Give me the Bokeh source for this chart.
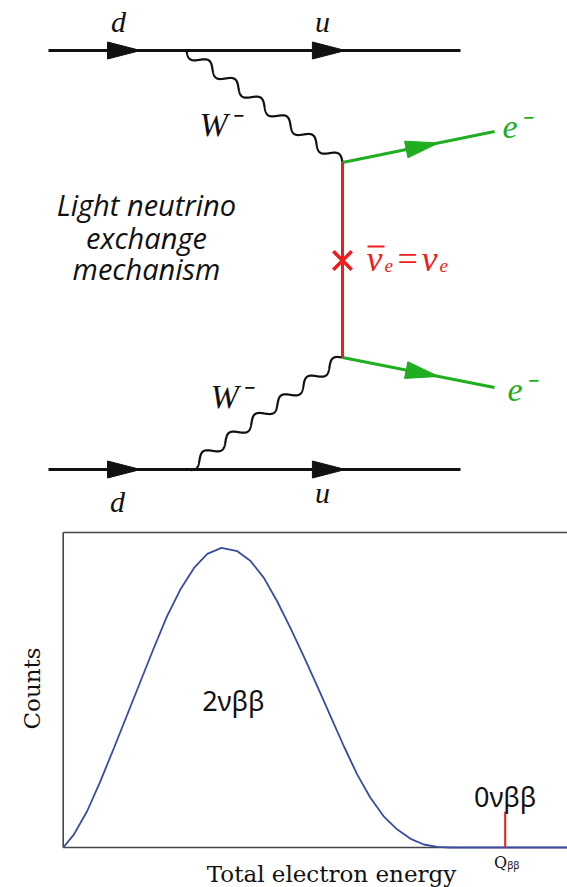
import numpy as np
from bokeh.plotting import figure
from bokeh.models import Range1d, Label
from bokeh.layouts import column
from bokeh.embed import file_html
from bokeh.resources import INLINE

# ---------------- spectrum data (energy in units of Q_bb, counts normalised) ----------------
energy = [0.0, 0.024, 0.054, 0.084, 0.115, 0.145, 0.175, 0.205, 0.235, 0.265, 0.296,
          0.326, 0.358, 0.394, 0.424, 0.454, 0.484, 0.514, 0.544, 0.575, 0.605,
          0.635, 0.665, 0.695, 0.725, 0.756, 0.786, 0.816, 0.846, 0.876, 1.0, 1.14]
counts = [0.0, 0.043, 0.121, 0.221, 0.333, 0.444, 0.555, 0.666, 0.772, 0.861, 0.933,
          0.980, 1.0, 0.989, 0.956, 0.900, 0.822, 0.733, 0.639, 0.538, 0.438,
          0.338, 0.244, 0.166, 0.104, 0.060, 0.029, 0.010, 0.002, 0.0, 0.0, 0.0]
q_energy = [1.0]          # Q_bb position
zero_nu_height = [0.12]   # height of the 0vbb line
count_axis_top = 1.0514   # top of the counts axis box
energy_axis_end = 1.141
label_2nu = (0.385, 0.49)
label_0nu = (1.0, 0.17)
x_title = "Total electron energy"
y_title = "Counts"

# ---------------- Feynman diagram geometry (drawing units) ----------------
quark_x = [48, 186, 460]      # left end, W vertex, right end
quark_y = [50, 469]           # upper and lower quark lines
lepton_x = 342                # lepton vertices x
lepton_y = [162, 357]         # upper and lower lepton vertex
electron_end_x = 494
electron_end_y = [131, 387]
cross_y = 260
arrow_frac_quark = [0.667, 0.58]
arrow_frac_electron = 0.632
w_periods = 6
w_amplitude = 5.0

BLACK = "#111111"
FRAME = "#444444"
GREEN = "#1fae1f"
RED = "#ee1c1c"
BLUE = "#3a4ba0"
DY = -11   # label baseline correction


def arrowhead(p0, p1, frac, length=33.0, half_w=8.5):
    p0 = np.array(p0, float)
    p1 = np.array(p1, float)
    d = p1 - p0
    u = d / np.hypot(*d)
    n = np.array([-u[1], u[0]])
    tip = p0 + frac * d
    base = tip - length * u
    pts = [tip, base + half_w * n, base - half_w * n]
    return [float(q[0]) for q in pts], [float(q[1]) for q in pts]


def wave(p0, p1, periods, amp):
    p0 = np.array(p0, float)
    p1 = np.array(p1, float)
    d = p1 - p0
    u = d / np.hypot(*d)
    n = np.array([-u[1], u[0]])
    s = np.linspace(0, 1, 600)
    off = amp * np.sin(2 * np.pi * periods * s)
    pts = p0[None, :] + s[:, None] * d[None, :] + off[:, None] * n[None, :]
    return list(pts[:, 0]), list(pts[:, 1])


top = figure(width=567, height=520, x_range=Range1d(0, 567), y_range=Range1d(520, 0),
             output_backend="svg", toolbar_location=None, min_border=0,
             x_axis_location=None, y_axis_location=None)
top.grid.visible = False
top.outline_line_color = None
top.background_fill_color = "white"
top.border_fill_color = "white"
top.frame_align = False

# quark lines
top.multi_line(xs=[[quark_x[0], quark_x[2]]] * 2, ys=[[quark_y[0]] * 2, [quark_y[1]] * 2],
               line_width=3, line_color=BLACK)
qx, qy = [], []
for yy in quark_y:
    a = arrowhead((quark_x[0], yy), (quark_x[1], yy), arrow_frac_quark[0])
    b = arrowhead((quark_x[1], yy), (quark_x[2], yy), arrow_frac_quark[1])
    qx += [a[0], b[0]]
    qy += [a[1], b[1]]
top.patches(qx, qy, fill_color=BLACK, line_color=BLACK, line_width=1)

# W bosons
wx, wy = [], []
for qyv, lyv in zip(quark_y, lepton_y):
    a = wave((quark_x[1], qyv), (lepton_x, lyv), w_periods, w_amplitude)
    wx.append(a[0])
    wy.append(a[1])
top.multi_line(wx, wy, line_width=2.2, line_color=BLACK)

# electrons
top.multi_line(xs=[[lepton_x, electron_end_x]] * 2,
               ys=[[lepton_y[0], electron_end_y[0]], [lepton_y[1], electron_end_y[1]]],
               line_width=3, line_color=GREEN)
ex, ey = [], []
for lyv, eyv in zip(lepton_y, electron_end_y):
    a = arrowhead((lepton_x, lyv), (electron_end_x, eyv), arrow_frac_electron)
    ex.append(a[0])
    ey.append(a[1])
top.patches(ex, ey, fill_color=GREEN, line_color=GREEN, line_width=1)

# neutrino propagator
top.segment(x0=[lepton_x], y0=[lepton_y[0]], x1=[lepton_x], y1=[lepton_y[1]],
            line_width=3, line_color=RED)
top.scatter(x=[lepton_x], y=[cross_y], marker="x", size=26, line_width=3.5, line_color=RED)

SERIF = "Liberation Serif"


def lab(fig, x, y, text, size, color=BLACK, font=SERIF, style="italic", align="left",
        baseline="alphabetic"):
    fig.add_layout(Label(x=x, y=y + DY, text=text, text_font=font, text_font_style=style,
                         text_font_size=f"{size}px", text_color=color, text_align=align,
                         text_baseline=baseline))


lab(top, 118, 32, "d", 30, align="center")
lab(top, 322, 32, "u", 30, align="center")
lab(top, 117, 512, "d", 30, align="center")
lab(top, 322, 503, "u", 30, align="center")
lab(top, 199, 135, "W⁻", 34)
lab(top, 210, 407, "W⁻", 34)
lab(top, 502, 137, "e⁻", 34, color=GREEN)
lab(top, 507, 400, "e⁻", 34, color=GREEN)

# nu-bar_e = nu_e
lab(top, 366, 269, "ν", 36, color=RED)
lab(top, 384, 276, "e", 19, color=RED)
lab(top, 397, 269, "=", 36, color=RED, style="normal")
lab(top, 421, 269, "ν", 36, color=RED)
lab(top, 439, 276, "e", 19, color=RED)
top.segment(x0=[367], y0=[246], x1=[384], y1=[246], line_width=2, line_color=RED)

for txt, yb in [("Light neutrino", 215), ("exchange", 248), ("mechanism", 279)]:
    lab(top, 146, yb, txt, 29, font="Open Sans", align="center")

# ---------------- spectrum ----------------
bot = figure(width=567, height=367, x_range=Range1d(-0.1419, 1.1410),
             y_range=Range1d(-0.1335, 1.0915),
             output_backend="svg", toolbar_location=None, min_border=0,
             x_axis_location=None, y_axis_location=None)
bot.grid.visible = False
bot.outline_line_color = None
bot.background_fill_color = "white"
bot.border_fill_color = "white"
bot.frame_align = False

# axis box (left, top, bottom edges)
bot.multi_line(xs=[[0.0, 0.0], [0.0, energy_axis_end], [0.0, energy_axis_end]],
               ys=[[0.0, count_axis_top], [count_axis_top, count_axis_top], [0.0, 0.0]],
               line_width=1.6, line_color=FRAME)

bot.line(energy, counts, line_width=1.8, line_color=BLUE)
bot.segment(x0=q_energy, y0=[0.0], x1=q_energy, y1=zero_nu_height, line_width=2,
            line_color=RED)

bot.text(x=[label_2nu[0]], y=[label_2nu[1]], text=["2νββ"], text_font_size="27px",
         text_align="center", text_baseline="middle", text_color=BLACK,
         text_font={"value": "Noto Sans"})
bot.text(x=[label_0nu[0]], y=[label_0nu[1]], text=["0νββ"], text_font_size="27px",
         text_align="center", text_baseline="middle", text_color=BLACK,
         text_font={"value": "Noto Sans"})

# axis titles
bot.text(x=[0.607], y=[-0.087], text=[x_title], text_font_size="23px",
         text_align="center", text_baseline="middle", text_color=BLACK,
         text_font={"value": "DejaVu Serif"})
bot.text(x=[-0.0717], y=[0.531], text=[y_title], angle=np.pi / 2, text_font_size="23px",
         text_align="center", text_baseline="middle", text_color=BLACK,
         text_font={"value": "DejaVu Serif"})

# Q_bb marker label
bot.text(x=q_energy, y=[-0.050], text=["Q"], x_offset=2, text_font_size="16px",
         text_align="right", text_baseline="middle", text_color=BLACK,
         text_font={"value": "DejaVu Serif"})
bot.text(x=q_energy, y=[-0.060], text=["ββ"], x_offset=2, text_font_size="10px",
         text_align="left", text_baseline="middle", text_color=BLACK,
         text_font={"value": "Noto Sans"})

layout = column(top, bot)
open("out.html", "w").write(file_html(layout, INLINE))
